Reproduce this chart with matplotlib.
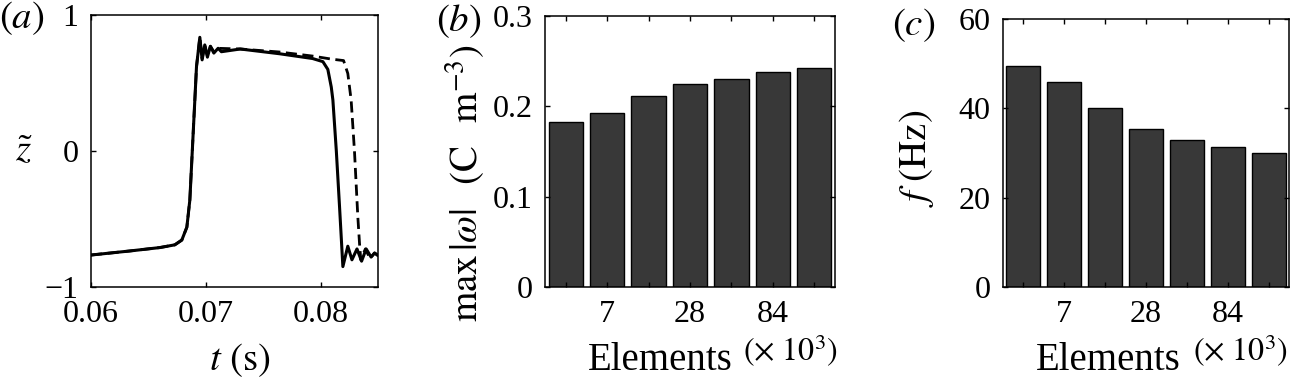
import numpy as np
import matplotlib
matplotlib.use('Agg')
import matplotlib.pyplot as plt

# ========== 資料 ==========
# (a) 時間序列
t_solid = [0.06, 0.06339, 0.0660, 0.0673, 0.06791, 0.06835, 0.06861, 0.0689, 0.06919,
           0.06948, 0.06968, 0.06991, 0.07014, 0.0704, 0.0707, 0.07107, 0.07136, 0.0730,
           0.07643, 0.0793, 0.0802, 0.08063, 0.08093, 0.08107, 0.08137, 0.08165, 0.08194,
           0.08237, 0.08273, 0.08317, 0.08357, 0.08397, 0.0844, 0.0847, 0.08496]
z_solid = [-0.765, -0.735, -0.71, -0.69, -0.655, -0.56, -0.36, 0.13, 0.62,
           0.836, 0.67, 0.78, 0.69, 0.77, 0.72, 0.755, 0.73, 0.75,
           0.715, 0.68, 0.657, 0.60, 0.47, 0.375, 0.0, -0.41, -0.85,
           -0.70, -0.80, -0.72, -0.81, -0.72, -0.78, -0.75, -0.765]

t_dash = [0.06, 0.06339, 0.0660, 0.0673, 0.06791, 0.06835, 0.06861, 0.0689, 0.06919,
          0.06948, 0.06968, 0.06991, 0.07014, 0.0704, 0.0707, 0.07107, 0.0730,
          0.0764, 0.0793, 0.0810, 0.0820, 0.08237, 0.08266, 0.08295, 0.08324, 0.08339,
          0.0835, 0.0839, 0.0843, 0.0847, 0.085]
z_dash = [-0.765, -0.735, -0.71, -0.69, -0.655, -0.56, -0.36, 0.13, 0.62,
          0.836, 0.68, 0.78, 0.70, 0.77, 0.73, 0.755, 0.75,
          0.728, 0.698, 0.675, 0.665, 0.57, 0.375, 0.0, -0.48, -0.68,
          -0.80, -0.72, -0.79, -0.75, -0.77]

# (b), (c) 網格收斂
element_labels = ['', '7', '', '28', '', '84', '']
max_omega = [0.1826, 0.193, 0.2115, 0.2244, 0.230, 0.2385, 0.2422]
freq_hz = [49.5, 46.0, 40.0, 35.4, 32.8, 31.3, 30.1]

# ========== 樣式 ==========
plt.rcParams['font.family'] = ['Liberation Serif', 'DejaVu Serif']
plt.rcParams['mathtext.fontset'] = 'stix'
TICK_FS = 23
LABEL_FS = 28
SUP_FS = 23
BAR_COLOR = '#383838'

W, H = 1291, 384
fig = plt.figure(figsize=(W / 100, H / 100), dpi=100)


def px_axes(l, t, r, b):
    return fig.add_axes([l / W, 1 - b / H, (r - l) / W, (b - t) / H])


def style_box(ax):
    for s in ax.spines.values():
        s.set_linewidth(1.1)
    ax.tick_params(direction='in', length=3.5, width=1.0, top=True, right=True,
                   labelsize=TICK_FS, pad=9)


# ---------- (a) ----------
ax1 = px_axes(91, 15, 378, 287)
ax1.plot(t_dash, z_dash, color='black', lw=2.0, ls=(0, (4, 2)))
ax1.plot(t_solid, z_solid, color='black', lw=2.2)
ax1.set_xlim(0.06, 0.085)
ax1.set_ylim(-1, 1)
ax1.set_xticks([0.06, 0.07, 0.08])
ax1.set_xticklabels(['0.06', '0.07', '0.08'])
ax1.set_yticks([-1, 0, 1])
ax1.set_yticklabels(['\u22121', '0', '1'])
style_box(ax1)

# ---------- (b) ----------
x = np.arange(1, len(max_omega) + 1)
ax2 = px_axes(545, 16, 835, 287)
ax2.bar(x, max_omega, width=0.83, color=BAR_COLOR, edgecolor='black', linewidth=1.0)
ax2.set_xlim(0.5, 7.5)
ax2.set_ylim(0, 0.3)
ax2.set_xticks(x)
ax2.set_xticklabels(element_labels)
ax2.set_yticks([0, 0.1, 0.2, 0.3])
ax2.set_yticklabels(['0', '0.1', '0.2', '0.3'])
style_box(ax2)

# ---------- (c) ----------
ax3 = px_axes(1003, 19, 1289, 287)
ax3.bar(x, freq_hz, width=0.83, color=BAR_COLOR, edgecolor='black', linewidth=1.0)
ax3.set_xlim(0.5, 7.5)
ax3.set_ylim(0, 60)
ax3.set_xticks(x)
ax3.set_xticklabels(element_labels)
ax3.set_yticks([0, 20, 40, 60])
style_box(ax3)

# ---------- 文字標籤 ----------
fig.text(22 / W, 1 - 18 / H, r'$(a)$', fontsize=LABEL_FS, ha='center', va='center')
fig.text(459 / W, 1 - 21 / H, r'$(b)$', fontsize=LABEL_FS, ha='center', va='center')
fig.text(914 / W, 1 - 25 / H, r'$(c)$', fontsize=LABEL_FS, ha='center', va='center')

fig.text(24 / W, 1 - 152 / H, r'$\tilde{z}$', fontsize=LABEL_FS, ha='center', va='center')
fig.text(240 / W, 1 - 360 / H, r'$t\ (\mathrm{s})$', fontsize=LABEL_FS, ha='center', va='center')

fig.text(465 / W, 1 - 183 / H, r'$\max\,|\omega|\;\;\;(\mathrm{C}\;\;\;\mathrm{m}^{-3})$',
         fontsize=LABEL_FS, ha='center', va='center', rotation=90)
fig.text(660 / W, 1 - 361 / H, 'Elements', fontsize=LABEL_FS, ha='center', va='center')
fig.text(791 / W, 1 - 351 / H, r'$(\times\ 10^3)$', fontsize=SUP_FS, ha='center', va='center')

fig.text(917 / W, 1 - 158 / H, r'$f\ (\mathrm{Hz})$', fontsize=LABEL_FS,
         ha='center', va='center', rotation=90)
fig.text(1108 / W, 1 - 361 / H, 'Elements', fontsize=LABEL_FS, ha='center', va='center')
fig.text(1241 / W, 1 - 351 / H, r'$(\times\ 10^3)$', fontsize=SUP_FS, ha='center', va='center')

plt.savefig('out.png', dpi=100)
plt.close()
